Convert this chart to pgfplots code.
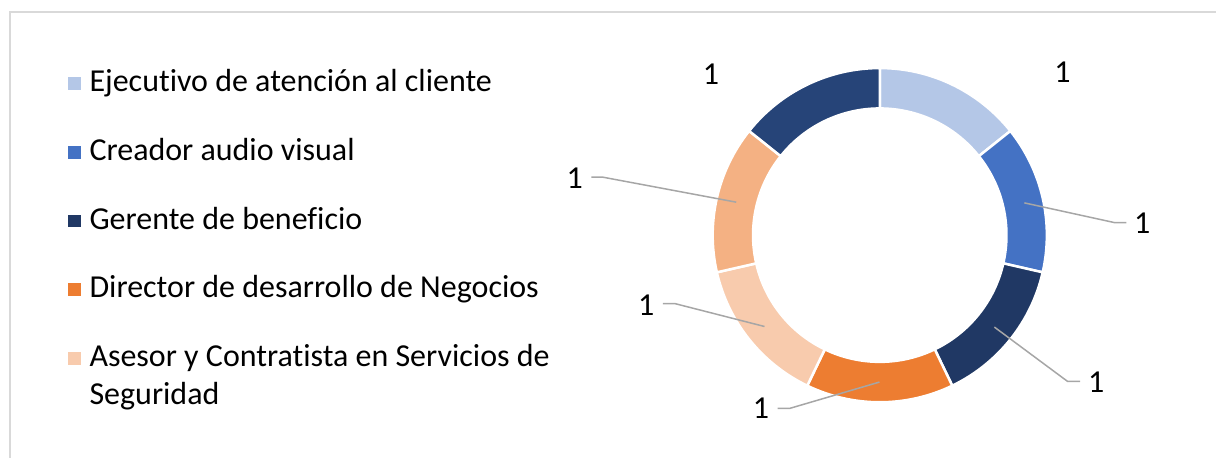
\documentclass[border=0pt]{standalone}
\usepackage{pgfplots}
\pgfplotsset{compat=1.18}
\usepackage{fontspec}
\setmainfont{Carlito}[Ligatures={NoCommon}]
\definecolor{c1}{HTML}{B4C7E7}
\definecolor{c2}{HTML}{4472C4}
\definecolor{c3}{HTML}{203864}
\definecolor{c4}{HTML}{ED7D31}
\definecolor{c5}{HTML}{F8CBAD}
\definecolor{c6}{HTML}{F4B183}
\definecolor{c7}{HTML}{264478}
\definecolor{leader}{HTML}{A6A6A6}
\definecolor{frame}{HTML}{D9D9D9}

% data: one value per segment (clockwise from the top)
\def\vA{1}\def\vB{1}\def\vC{1}\def\vD{1}\def\vE{1}\def\vF{1}\def\vG{1}
\pgfmathsetmacro\tot{\vA+\vB+\vC+\vD+\vE+\vF+\vG}
\pgfmathsetmacro\aO{90}
\pgfmathsetmacro\aA{\aO-360*\vA/\tot}
\pgfmathsetmacro\aB{\aA-360*\vB/\tot}
\pgfmathsetmacro\aC{\aB-360*\vC/\tot}
\pgfmathsetmacro\aD{\aC-360*\vD/\tot}
\pgfmathsetmacro\aE{\aD-360*\vE/\tot}
\pgfmathsetmacro\aF{\aE-360*\vF/\tot}
\pgfmathsetmacro\aG{\aF-360*\vG/\tot}
\def\cx{880.3}\def\cy{222.7}\def\Ro{167.2}\def\Ri{126.8}

\newcommand\seg[3]{%
  \fill[#3, draw=white, line width=2.5pt, line join=round]
  (axis cs:{\cx+\Ro*cos(#1)},{\cy+\Ro*sin(#1)}) arc[start angle=#1, end angle=#2, radius=\Ro pt]
  -- (axis cs:{\cx+\Ri*cos(#2)},{\cy+\Ri*sin(#2)}) arc[start angle=#2, end angle=#1, radius=\Ri pt] -- cycle;}

\newcommand\lab{\fontsize{32}{38.4}\selectfont}

\begin{document}
\begin{tikzpicture}
\begin{axis}[x=1pt, y=1pt, xmin=0, xmax=1217, ymin=0, ymax=458,
  hide axis, clip=false,
  legend image code/.code={\fill[#1] (0pt,2pt) rectangle (12.6pt,14.6pt);},
  legend cell align=left,
  legend style={at={(0.05588,0.8478)}, anchor=north west, draw=none, fill=none,
    inner sep=0pt, outer sep=0pt, row sep=45pt, column sep=9pt,
    font=\lab, cells={anchor=base west}, nodes={inner sep=0pt}},
]
\path (axis cs:0,0) rectangle (axis cs:1217,458);
\draw[frame, line width=1.5pt] (axis cs:10,0) -- (axis cs:10,446) -- (axis cs:1217,446);

\addlegendimage{fill=c1, draw=none}
\addlegendentry{\rule[-8pt]{0pt}{28pt}Ejecutivo de atención al cliente}
\addlegendimage{fill=c2, draw=none}
\addlegendentry{\rule[-8pt]{0pt}{28pt}Creador audio visual}
\addlegendimage{fill=c3, draw=none}
\addlegendentry{\rule[-8pt]{0pt}{28pt}Gerente de beneficio}
\addlegendimage{fill=c4, draw=none}
\addlegendentry{\rule[-13pt]{0pt}{33pt}Director de desarrollo de Negocios}
\addlegendimage{fill=c5, draw=none}
\addlegendentry{\vtop{\hbox{\rule[-8pt]{0pt}{28pt}Asesor y Contratista en Servicios de}\hbox{Seguridad}}}

\seg{\aO}{\aA}{c1}
\seg{\aA}{\aB}{c2}
\seg{\aB}{\aC}{c3}
\seg{\aC}{\aD}{c4}
\seg{\aD}{\aE}{c5}
\seg{\aE}{\aF}{c6}
\seg{\aF}{\aG}{c7}

\draw[leader, line width=1.5pt] (axis cs:1025,255) -- (axis cs:1115,235.3) -- (axis cs:1127,235.3);
\draw[leader, line width=1.5pt] (axis cs:995,130.7) -- (axis cs:1068.3,76.3) -- (axis cs:1080.7,76.3);
\draw[leader, line width=1.5pt] (axis cs:880,75.7) -- (axis cs:790,49.3) -- (axis cs:778,49.3);
\draw[leader, line width=1.5pt] (axis cs:765,131.3) -- (axis cs:675,154.3) -- (axis cs:663.3,154.3);
\draw[leader, line width=1.5pt] (axis cs:736.7,255.7) -- (axis cs:603.3,280.7) -- (axis cs:591.7,280.7);

\node[font=\lab, inner sep=0pt] at (axis cs:1063,386) {\vA};
\node[font=\lab, inner sep=0pt] at (axis cs:1143,234.5) {\vB};
\node[font=\lab, inner sep=0pt] at (axis cs:1097,76) {\vC};
\node[font=\lab, inner sep=0pt] at (axis cs:761.5,49.5) {\vD};
\node[font=\lab, inner sep=0pt] at (axis cs:646.5,152.5) {\vE};
\node[font=\lab, inner sep=0pt] at (axis cs:575,279.5) {\vF};
\node[font=\lab, inner sep=0pt] at (axis cs:711.5,384) {\vG};
\end{axis}
\end{tikzpicture}
\end{document}
